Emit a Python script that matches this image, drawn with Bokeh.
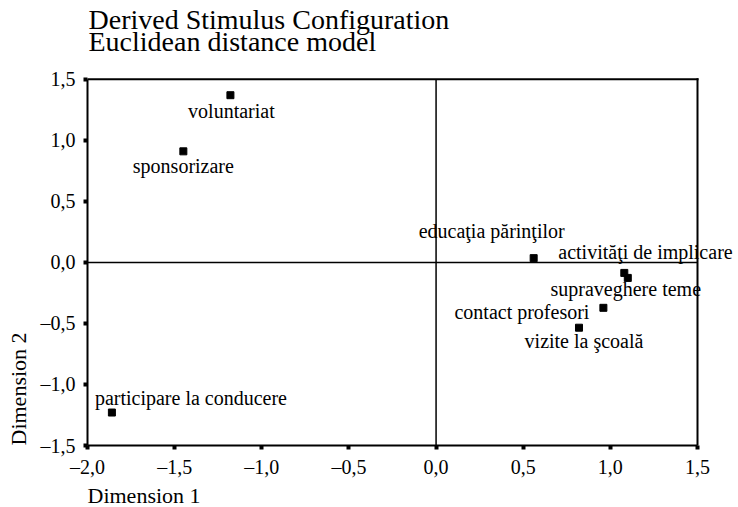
from bokeh.plotting import figure
from bokeh.models import (ColumnDataSource, Label, FixedTicker,
                          CustomJSTickFormatter, Range1d, Title)
from bokeh.embed import file_html
from bokeh.resources import INLINE

# ---- data ----
names = ["voluntariat", "sponsorizare", "participare la conducere",
         "educaţia părinţilor", "activităţi de implicare", "supraveghere teme",
         "contact profesori", "vizite la şcoală"]
dim1 = [-1.18, -1.45, -1.86, 0.56, 1.08, 1.10, 0.96, 0.82]
dim2 = [1.37, 0.91, -1.23, 0.035, -0.086, -0.127, -0.372, -0.535]

x_ticks = [-2.0, -1.5, -1.0, -0.5, 0.0, 0.5, 1.0, 1.5]
y_ticks = [-1.5, -1.0, -0.5, 0.0, 0.5, 1.0, 1.5]

title_lines = ["Derived Stimulus Configuration", "Euclidean distance model"]
x_label = "Dimension 1"
y_label = "Dimension 2"

# ---- label layout (screen pixels, style only) ----
label_dx = [1, 0, -17, -42, -66, -2, -14, 5]
label_dy = [-16, -15, 15, 27, 21, -11, -4, -13]
label_align = ["center", "center", "left", "center", "left", "center", "right", "center"]
title_offsets = [19, 41]   # px below canvas top

FONT = "Liberation Serif"

# ---- layout (pixels) ----
W, H = 738, 507
LEFT = 87
BOX_RIGHT, BOX_TOP, BOX_BOTTOM = 697, 79, 446
x0, x1 = x_ticks[0], x_ticks[-1]
y0, y1 = y_ticks[0], y_ticks[-1]
# the drawing area runs to the right and top canvas edges so that texts are not clipped;
# the box [x0,x1]x[y0,y1] is drawn explicitly
x_end = x0 + (x1 - x0) * (W - LEFT) / (BOX_RIGHT - LEFT)
y_end = y0 + (y1 - y0) * BOX_BOTTOM / (BOX_BOTTOM - BOX_TOP)

src = ColumnDataSource(dict(x=dim1, y=dim2, name=names))

p = figure(width=W, height=H, output_backend="svg", toolbar_location=None,
           title=None,
           x_range=Range1d(x0, x_end), y_range=Range1d(y0, y_end),
           min_border_left=LEFT, min_border_right=0, min_border_top=0,
           min_border_bottom=H - BOX_BOTTOM)

p.background_fill_color = "white"
p.border_fill_color = "white"
p.outline_line_color = None
p.xgrid.visible = False
p.ygrid.visible = False

fmt = CustomJSTickFormatter(code="""
const s = Math.abs(tick).toFixed(1).replace('.', ',');
return (tick < -1e-9 ? '\u2013' : '') + s;
""")

for ax, ticks in ((p.xaxis[0], x_ticks), (p.yaxis[0], y_ticks)):
    ax.ticker = FixedTicker(ticks=ticks)
    ax.formatter = fmt
    ax.bounds = (ticks[0], ticks[-1])
    ax.axis_line_color = "black"
    ax.axis_line_width = 2
    ax.major_tick_line_color = "black"
    ax.major_tick_line_width = 4
    ax.major_tick_out = 4
    ax.major_tick_in = 0
    ax.minor_tick_line_color = None
    ax.major_label_text_font = FONT
    ax.major_label_text_font_size = "20px"
    ax.major_label_text_color = "black"

p.xaxis[0].major_label_standoff = 6
p.yaxis[0].major_label_standoff = 8
p.yaxis[0].major_label_orientation = "horizontal"

p.add_layout(Title(text=x_label, align="left", text_font=FONT,
                   text_font_size="22px", text_font_style="normal",
                   text_color="black", standoff=0, offset=0), "below")
p.add_layout(Title(text=y_label, align="left", text_font=FONT,
                   text_font_size="22px", text_font_style="normal",
                   text_color="black", standoff=10, vertical_align="top"), "left")

# title (two lines) placed above the box
for line, off in zip(title_lines, title_offsets):
    p.add_layout(Label(x=x0, y=y_end, text=line, x_offset=1, y_offset=-off,
                       text_align="left", text_baseline="alphabetic",
                       text_font=FONT, text_font_size="28px", text_color="black"))

# frame box: top and right edges (left/bottom are the axes)
p.segment(x0=[x0, x1], y0=[y1, y0], x1=[x1, x1], y1=[y1, y1],
          line_color="black", line_width=2, line_cap="square")
# reference lines at 0
p.segment(x0=[0, x0], y0=[y0, 0], x1=[0, x1], y1=[y1, 0],
          line_color="black", line_width=1.5)

p.scatter("x", "y", source=src, marker="square", size=7,
          fill_color="black", line_color="black")

for xi, yi, nm, dx, dy, al in zip(dim1, dim2, names, label_dx, label_dy, label_align):
    p.add_layout(Label(x=xi, y=yi, text=nm, x_offset=dx, y_offset=dy,
                       text_align=al, text_baseline="alphabetic",
                       text_font=FONT, text_font_size="20px",
                       text_color="black"))

open("out.html", "w").write(file_html(p, INLINE))
